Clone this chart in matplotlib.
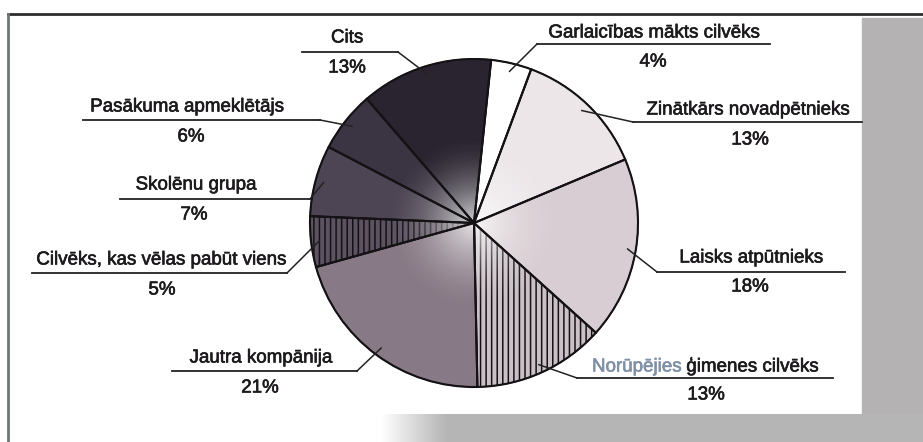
import numpy as np
import matplotlib
matplotlib.use("Agg")
import matplotlib.pyplot as plt
import matplotlib.patheffects as pe
from matplotlib.patches import Circle, Rectangle

# slices, clockwise from the top
labels = [
    "Garlaicības mākts cilvēks",
    "Zinātkārs novadpētnieks",
    "Laisks atpūtnieks",
    "Norūpējies ģimenes cilvēks",
    "Jautra kompānija",
    "Cilvēks, kas vēlas pabūt viens",
    "Skolēnu grupa",
    "Pasākuma apmeklētājs",
    "Cits",
]
shares = [4, 13, 18, 13, 21, 5, 7, 6, 13]
pct_labels = [f"{v}%" for v in shares]

colors = ["#ffffff", "#ece6e9", "#d8cdd2", "#cbc0c6", "#877985",
          "#5d5262", "#4d4553", "#3b3442", "#2a2430"]
hatches = [None, None, None, "|||", None, "|||", None, None, None]

# label layout in pixels (y down): text centre x, text y, underline y, underline x0/x1, pct x/y
label_cx = [654, 748, 751, 705, 261, 161, 196, 187, 347]
label_y = [33, 110, 258, 367, 358, 260, 185, 107, 38]
line_y = [44, 122, 272, 378, 371, 273, 199, 120, 52]
line_x = [(537, 770), (633, 862), (657, 845), (577, 833), (172, 357),
          (32, 287), (120, 310), (83, 320), (302, 398)]
pct_xy = [(653, 62), (750, 140), (750, 287), (706, 395), (260, 388),
          (162, 290), (194, 215), (191, 137), (347, 68)]

W, H = 923, 442
CX, CY, R = 474, 223, 164
TXT = "#1c1a1c"
bold = [pe.withStroke(linewidth=0.45, foreground=TXT)]

plt.rcParams["font.family"] = ["Liberation Sans", "DejaVu Sans"]
plt.rcParams["hatch.linewidth"] = 1.1

fig = plt.figure(figsize=(W / 100, H / 100), dpi=100)
fig.patch.set_facecolor("white")
ax = fig.add_axes([0, 0, 1, 1])

# scanned page: grey margins and frame lines
ax.add_patch(Rectangle((862, 18), W - 862, H - 18, color="#b4b2b2", zorder=0))
grad = np.linspace(0, 1, 200)[None, :]
grad = np.clip(grad / 0.12, 0, 1)
bg = np.ones((1, 200, 4))
bg[..., :3] = 1 - grad[..., None] * (1 - 0.71)
ax.imshow(bg, extent=(380, W, H, 414), aspect="auto", zorder=0.5, interpolation="bilinear")
ax.plot([8, W], [14, 14], color="#2e2e2e", lw=2, zorder=3)
ax.plot([8, 8], [14, H], color="#6f7775", lw=2, zorder=3)

# y axis points down, so counterclock=True draws clockwise on screen
wedges, _ = ax.pie(shares, colors=colors, startangle=-84, counterclock=True,
                   center=(CX, CY), radius=R, frame=True,
                   wedgeprops=dict(edgecolor="#141214", linewidth=0.9))
for w, h in zip(wedges, hatches):
    if h:
        w.set_hatch(h)

# lighter centre of the shaded pie
n = 300
yy, xx = np.mgrid[-1:1:n * 1j, -1:1:n * 1j]
rr = np.hypot(xx, yy)
glow = np.zeros((n, n, 4))
glow[..., :3] = 1.0
glow[..., 3] = 0.8 * np.clip(1 - rr / 0.55, 0, 1) ** 1.8
im = ax.imshow(glow, extent=(CX - R, CX + R, CY + R, CY - R), zorder=2,
               interpolation="bilinear")
im.set_clip_path(Circle((CX, CY), R, transform=ax.transData))

ax.pie(shares, startangle=-84, counterclock=True, center=(CX, CY), radius=R,
       frame=True, wedgeprops=dict(fill=False, edgecolor="#141214", linewidth=1.5,
                                   zorder=2.5))

for i, w in enumerate(wedges):
    mid = np.deg2rad((w.theta1 + w.theta2) / 2)
    tip = (CX + 0.95 * R * np.cos(mid), CY + 0.95 * R * np.sin(mid))
    x0, x1 = line_x[i]
    near = x0 if tip[0] < x0 else x1
    ax.plot([tip[0], near], [tip[1], line_y[i]], color="#222", lw=1.1, zorder=4)
    ax.plot([x0, x1], [line_y[i], line_y[i]], color="#222", lw=1.3, zorder=4)
    if i == 3:
        # scanned colour shift on the first word
        t1 = ax.text(592, label_y[i], "Norūpējies", color="#8090a6", fontsize=13.5,
                     ha="left", va="center", zorder=5,
                     path_effects=[pe.withStroke(linewidth=0.45, foreground="#8090a6")])
        ax.annotate(" ģimenes cilvēks", xy=(1, 0), xycoords=t1, color=TXT,
                    fontsize=13.5, ha="left", va="bottom", zorder=5, path_effects=bold)
    else:
        ax.text(label_cx[i], label_y[i], labels[i], color=TXT, fontsize=13.5,
                ha="center", va="center", zorder=5, path_effects=bold)
    ax.text(pct_xy[i][0], pct_xy[i][1], pct_labels[i], color=TXT, fontsize=13.5,
            ha="center", va="center", zorder=5, path_effects=bold)

ax.set_xlim(0, W)
ax.set_ylim(H, 0)
ax.set_aspect("auto")
ax.axis("off")

fig.savefig("out.png", dpi=100)
